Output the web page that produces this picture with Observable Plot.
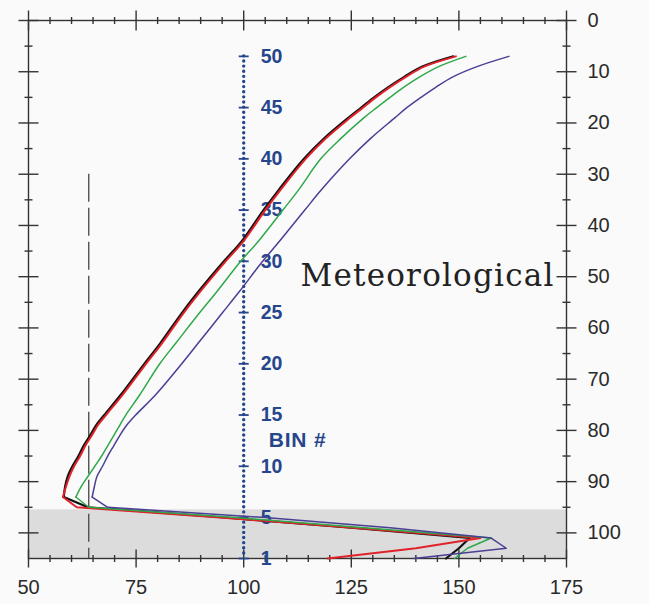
<!DOCTYPE html>
<html>
<head>
<meta charset="utf-8">
<script src="https://cdn.jsdelivr.net/npm/d3@7"></script>
<script src="https://cdn.jsdelivr.net/npm/@observablehq/plot@0.6"></script>
<style>
  html, body { margin: 0; padding: 0; background: #fafafa; }
  #chart svg { display: block; }
</style>
</head>
<body>
<div id="chart"></div>
<script>
// Range bins sampled along each profile (bin 1 = deepest, bin 50 = top)
const bins = [1, 2, 3, 4, 5, 6, 7, 8, 9, 10, 11, 12, 13, 14, 15, 17, 20, 22, 25, 27,
              30, 32, 35, 37, 40, 42, 44, 45, 46, 47, 48, 49, 50];

// Profile values per bin
const blackProfile = [147, 150, 152.5, 125, 95.5, 63.8, 58.2, 58.5, 59.1, 60.2, 61.6, 62.8, 64.3, 65.7, 67.6, 71.5,
                      76.9, 80.6, 85.7, 89.4, 95.4, 99.6, 104.6, 108.2, 114.0, 118.7, 124.3, 127.3, 130.3, 133.6, 137.3, 141.5, 148.7];
const redProfile = [119.5, 140, 155, 125.5, 94.5, 61.2, 58.0, 58.7, 59.5, 60.6, 62.0, 63.2, 64.7, 66.1, 68.0, 71.9,
                    77.3, 81.0, 86.1, 89.8, 95.8, 100.0, 105.0, 108.6, 114.4, 119.1, 124.7, 127.7, 130.7, 134.0, 137.7, 141.9, 149.3];
const greenProfile = [149, 152, 157.5, 128, 98, 64, 61.0, 62.2, 63.8, 65.4, 67.0, 68.4, 69.8, 71.2, 72.6, 75.9,
                      80.5, 84.2, 89.8, 93.7, 99.3, 103.5, 109.1, 112.8, 117.9, 122.6, 127.9, 130.9, 134.0, 137.2, 140.9, 145.3, 151.6];
const purpleProfile = [139.5, 161, 157.5, 134, 105, 68.4, 64.8, 65.3, 65.9, 67.2, 68.4, 69.8, 71.2, 72.8, 74.9, 79.6,
                       85.6, 89.4, 95.1, 98.9, 104.4, 108.4, 114.2, 118.1, 124.6, 129.5, 135.1, 137.9, 141.2, 144.7, 148.6, 154.2, 161.6];

// Axes
const xDomain = [50, 175];
const yDomain = [0, 105];
const xTickLabels = [50, 75, 100, 125, 150, 175];
const xMinorTicks = [55, 60, 65, 70, 80, 85, 90, 95, 105, 110, 115, 120, 130, 135, 140, 145, 155, 160, 165, 170];
const yTickLabels = [0, 10, 20, 30, 40, 50, 60, 70, 80, 90, 100];
const yMinorTicks = [5, 15, 25, 35, 45, 55, 65, 75, 85, 95];
const binTickLabels = [1, 5, 10, 15, 20, 25, 30, 35, 40, 45, 50];

// Annotations
const shadedBand = [{from: 95.5, to: 105}];
const thresholdValue = 64;
const thresholdTop = 30;
const binColumnValue = 100;
const annotationLabel = "Meteorological";
const binAxisTitle = "BIN #";

// bin number -> depth on the vertical scale
const binDepth = b => 107 - 2 * b;
// bin where the profiles turn (below: straight segments, above: smooth)
const turnBin = 7;

const rows = (values) => bins.map((b, i) => ({bin: b, depth: binDepth(b), value: values[i]}));

function profile(values, stroke, strokeWidth) {
  const data = rows(values);
  return [
    Plot.line(data.filter(d => d.bin <= turnBin), {x: "value", y: "depth", stroke, strokeWidth, strokeLinejoin: "round"}),
    Plot.line(data.filter(d => d.bin >= turnBin), {x: "value", y: "depth", stroke, strokeWidth, curve: "catmull-rom", strokeLinejoin: "round"})
  ];
}

// tick glyphs drawn as short strokes centred on the axis line
const vTick = {draw(ctx, size) { const r = Math.sqrt(size / Math.PI); ctx.moveTo(0, -r); ctx.lineTo(0, r); }};
const hTick = {draw(ctx, size) { const r = Math.sqrt(size / Math.PI); ctx.moveTo(-r, 0); ctx.lineTo(r, 0); }};

const axisColor = "#333";
const binBlue = "#26468c";

const chart = Plot.plot({
  width: 649,
  height: 604,
  marginLeft: 28,
  marginRight: 83,
  marginTop: 20,
  marginBottom: 46,
  x: {domain: xDomain, axis: null},
  y: {domain: yDomain, reverse: true, axis: null},
  style: {background: "transparent", fontFamily: "Liberation Sans, Arial, sans-serif"},
  marks: [
    Plot.rect(shadedBand, {x1: xDomain[0], x2: xDomain[1], y1: "from", y2: "to", fill: "#dcdcdd"}),
    Plot.frame({stroke: axisColor, strokeWidth: 1.4}),

    // ticks on all four sides
    Plot.dot(xTickLabels, {x: d => d, y: yDomain[0], r: 10, symbol: vTick, fill: "none", stroke: axisColor, strokeWidth: 1.4}),
    Plot.dot(xMinorTicks, {x: d => d, y: yDomain[0], r: 3.5, symbol: vTick, fill: "none", stroke: axisColor, strokeWidth: 1.4}),
    Plot.dot(xTickLabels, {x: d => d, y: yDomain[1], r: 9, symbol: vTick, fill: "none", stroke: axisColor, strokeWidth: 1.4}),
    Plot.dot(xMinorTicks, {x: d => d, y: yDomain[1], r: 3.5, symbol: vTick, fill: "none", stroke: axisColor, strokeWidth: 1.4}),
    Plot.dot(yTickLabels, {x: xDomain[0], y: d => d, r: 10, symbol: hTick, fill: "none", stroke: axisColor, strokeWidth: 1.4}),
    Plot.dot(yMinorTicks, {x: xDomain[0], y: d => d, r: 4, symbol: hTick, fill: "none", stroke: axisColor, strokeWidth: 1.4}),
    Plot.dot(yTickLabels, {x: xDomain[1], y: d => d, r: 10, symbol: hTick, fill: "none", stroke: axisColor, strokeWidth: 1.4}),
    Plot.dot(yMinorTicks, {x: xDomain[1], y: d => d, r: 4, symbol: hTick, fill: "none", stroke: axisColor, strokeWidth: 1.4}),

    // tick labels
    Plot.text(yTickLabels, {x: xDomain[1], y: d => d, text: d => String(d), textAnchor: "start", dx: 21, fontSize: 20, fill: "#2a2a2a"}),
    Plot.text(xTickLabels, {x: d => d, y: yDomain[1], text: d => String(d), dy: 29, fontSize: 20, fill: "#2a2a2a"}),

    // threshold reference
    Plot.ruleX([thresholdValue], {y1: thresholdTop, y2: yDomain[1], stroke: "#444", strokeWidth: 1.3, strokeDasharray: "28 6"}),

    // range-bin column
    Plot.ruleX([binColumnValue], {y1: binDepth(50), y2: binDepth(1), stroke: binBlue, strokeWidth: 3.4, strokeDasharray: "0 5.124", strokeLinecap: "round"}),
    Plot.dot(binTickLabels, {x: binColumnValue, y: binDepth, r: 5, symbol: hTick, fill: "none", stroke: binBlue, strokeWidth: 1.8}),
    Plot.text(binTickLabels, {x: binColumnValue, y: binDepth, text: d => String(d), textAnchor: "start", dx: 17, fontSize: 19.5, fontWeight: "bold", fill: binBlue}),
    Plot.text([binAxisTitle], {x: binColumnValue, y: binDepth(12.5), text: d => d, textAnchor: "start", dx: 25, fontSize: 21, fontWeight: "bold", fill: binBlue}),

    // profiles
    ...profile(blackProfile, "#111", 2.2),
    ...profile(redProfile, "#e0222a", 2),
    ...profile(greenProfile, "#2fa84a", 1.5),
    ...profile(purpleProfile, "#4a3f95", 1.5),

    // label
    Plot.text([annotationLabel], {x: xDomain[1], y: 50, text: d => d, textAnchor: "end", lineAnchor: "bottom", dx: -12, dy: 9,
      fontFamily: "DejaVu Serif", fontSize: 31, fill: "#222"})
  ]
});

d3.select(chart).selectAll("text")
  .filter(function () { return this.textContent === annotationLabel; })
  .style("letter-spacing", "1.2px");
d3.select(chart).selectAll("text")
  .filter(function () { return this.textContent === binAxisTitle; })
  .style("letter-spacing", "0.8px");

document.getElementById("chart").appendChild(chart);
</script>
</body>
</html>
